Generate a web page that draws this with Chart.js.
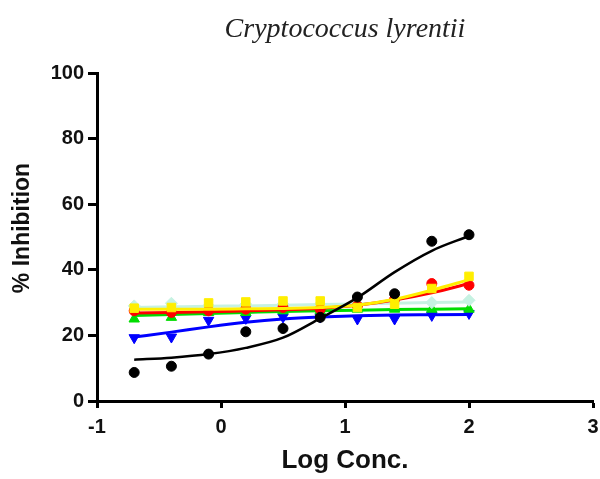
<!DOCTYPE html>
<html>
<head>
<meta charset="utf-8">
<script src="https://cdn.jsdelivr.net/npm/chart.js@4/dist/chart.umd.min.js"></script>
<style>
  html, body { margin: 0; padding: 0; background: #fff; }
  #wrap { width: 600px; height: 479px; }
</style>
</head>
<body>
<div id="wrap"><canvas id="chart"></canvas></div>
<script>
// Datos (log de concentración, % de inhibición)
const logConc = [-0.7, -0.4, -0.1, 0.2, 0.5, 0.8, 1.1, 1.4, 1.7, 2.0];

const blackPts  = [8.7, 10.6, 14.3, 21.1, 22.1, 25.5, 31.7, 32.7, 48.7, 50.7];
const blackFit  = [12.6, 13.2, 14.3, 16.2, 19.3, 25.2, 31.5, 39.3, 45.8, 50.3];
const redPts    = [27.5, 27.0, 27.5, 28.0, 28.5, 28.0, 29.0, 31.0, 35.8, 35.3];
const redFit    = [26.8, 27.0, 27.2, 27.5, 27.8, 28.3, 29.2, 30.8, 33.0, 35.8];
const yellowPts = [28.3, 28.5, 29.9, 30.2, 30.5, 30.5, 28.5, 29.5, 34.3, 38.0];
const yellowFit = [28.0, 28.0, 28.0, 28.1, 28.2, 28.5, 29.2, 31.0, 33.8, 37.0];
const greenPts  = [25.0, 25.5, 27.0, 27.0, 27.5, 27.5, 28.0, 28.0, 28.0, 28.0];
const greenFit  = [26.1, 26.4, 26.7, 27.0, 27.3, 27.5, 27.7, 27.9, 28.0, 28.1];
const bluePts   = [19.3, 19.5, 24.6, 25.2, 25.6, 25.6, 25.0, 25.0, 26.1, 26.7];
const blueFit   = [19.5, 21.0, 22.6, 24.0, 25.0, 25.6, 26.0, 26.2, 26.3, 26.4];
const cyanPts   = [29.0, 29.8, 29.0, 29.5, 29.5, 29.5, 29.5, 30.0, 30.0, 30.7];
const cyanFit   = [28.5, 28.7, 28.9, 29.0, 29.2, 29.4, 29.6, 29.8, 30.0, 30.2];

const xTicks = [-1, 0, 1, 2, 3];
const yTicks = [0, 20, 40, 60, 80, 100];

const chartTitle = 'Cryptococcus lyrentii';
const xTitle = 'Log Conc.';
const yTitle = '% Inhibition';

function toXY(ys) {
    return ys.map((y, i) => ({ x: logConc[i], y: y }));
}

function pointSet(ys, color, style, radius, rotation = 0) {
    return {
        data: toXY(ys),
        showLine: false,
        pointStyle: style,
        pointRadius: radius,
        pointRotation: rotation,
        backgroundColor: color,
        borderColor: color,
        borderWidth: 1
    };
}

function fitSet(ys, color, width = 3) {
    return {
        data: toXY(ys),
        showLine: true,
        pointRadius: 0,
        borderColor: color,
        borderWidth: width,
        cubicInterpolationMode: 'monotone',
        fill: false
    };
}

// Título en cursiva y título del eje Y (desplazado hacia arriba como en el original)
const textPlugin = {
    id: 'extraText',
    afterDraw(chart) {
        const { ctx, chartArea } = chart;
        ctx.save();
        ctx.font = 'italic 28px "Liberation Serif"';
        ctx.fillStyle = '#222';
        ctx.textAlign = 'center';
        ctx.textBaseline = 'alphabetic';
        ctx.fillText(chartTitle, (chartArea.left + chartArea.right) / 2, 37);

        ctx.translate(23, 228);
        ctx.rotate(-Math.PI / 2);
        ctx.font = 'bold 23px "Liberation Sans"';
        ctx.fillStyle = '#111';
        ctx.textBaseline = 'middle';
        ctx.fillText(yTitle, 0, 0);
        ctx.restore();
    }
};

const axisFont = { family: '"Liberation Sans", Arial, sans-serif', weight: 'bold' };

new Chart(document.getElementById('chart'), {
    type: 'scatter',
    data: {
        datasets: [
            pointSet(blackPts, '#000000', 'circle', 5),
            fitSet(blackFit, '#000000', 2.5),
            pointSet(yellowPts, '#ffee00', 'rect', 6),
            fitSet(yellowFit, '#ffee00'),
            pointSet(redPts, '#ff0000', 'circle', 5),
            fitSet(redFit, '#ff0000'),
            pointSet(cyanPts, '#c6f2e2', 'rectRot', 6),
            fitSet(cyanFit, '#c6f2e2'),
            pointSet(greenPts, '#00dd00', 'triangle', 6),
            fitSet(greenFit, '#00dd00'),
            pointSet(bluePts, '#0000ff', 'triangle', 6, 180),
            fitSet(blueFit, '#0000ff')
        ]
    },
    options: {
        responsive: true,
        maintainAspectRatio: false,
        animation: false,
        layout: { padding: { top: 73, right: 7, left: 0, bottom: 0 } },
        plugins: {
            legend: { display: false },
            tooltip: { enabled: false }
        },
        scales: {
            x: {
                type: 'linear',
                min: xTicks[0],
                max: xTicks[xTicks.length - 1],
                afterBuildTicks: s => { s.ticks = xTicks.map(v => ({ value: v })); },
                afterFit: s => { s.height = 78; s.paddingRight = 0; s.paddingLeft = 0; },
                border: { color: '#000', width: 3 },
                grid: { drawOnChartArea: false, drawTicks: true, tickLength: 7, tickColor: '#000', tickWidth: 3 },
                ticks: { color: '#111', padding: 7, font: { ...axisFont, size: 20 } },
                title: { display: true, text: xTitle, color: '#111', padding: { top: 0, bottom: 3 }, font: { ...axisFont, size: 26 } }
            },
            y: {
                min: yTicks[0],
                max: yTicks[yTicks.length - 1],
                afterBuildTicks: s => { s.ticks = yTicks.map(v => ({ value: v })); },
                afterFit: s => { s.width = 97; s.paddingTop = 0; s.paddingBottom = 0; },
                border: { color: '#000', width: 3 },
                grid: { drawOnChartArea: false, drawTicks: true, tickLength: 9, tickColor: '#000', tickWidth: 3 },
                ticks: { color: '#111', padding: 4, font: { ...axisFont, size: 20 } },
                title: { display: false }
            }
        }
    },
    plugins: [textPlugin]
});
</script>
</body>
</html>
